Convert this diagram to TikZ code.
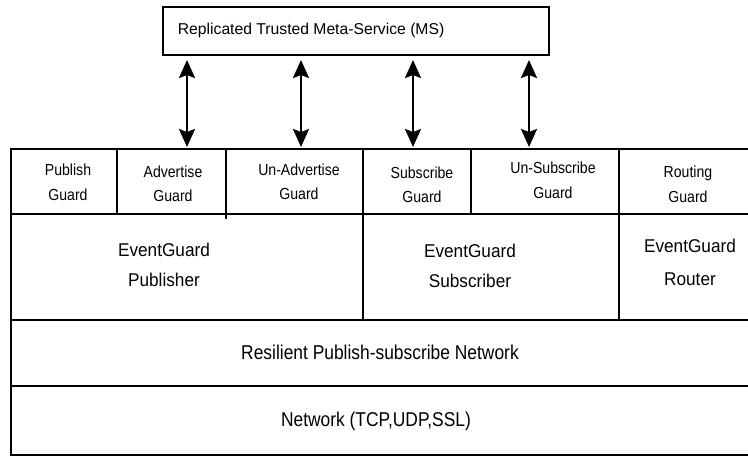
\documentclass[tikz,border=0pt]{standalone}
\usepackage{fontspec}
\setmainfont{Liberation Sans}
\newfontfamily\msfont{Liberation Sans}
\newfontfamily\guardfont[FakeStretch=0.88]{Liberation Sans}
\newfontfamily\compfont[FakeStretch=0.93]{Liberation Sans}
\newfontfamily\layerfont[FakeStretch=0.87]{Liberation Sans}
\usetikzlibrary{arrows.meta}

\begin{document}
\begin{tikzpicture}[x=1pt,y=-1pt,
  cell/.style={draw, line width=2pt, inner sep=0pt, outer sep=0pt, anchor=north west},
  guardtxt/.style={inner sep=0pt, align=center, font=\guardfont\fontsize{16}{24.5}\selectfont},
  comptxt/.style={inner sep=0pt, align=center, font=\compfont\fontsize{18.5}{30}\selectfont},
  layertxt/.style={inner sep=0pt, font=\layerfont\fontsize{20}{24}\selectfont},
  biarrow/.style={line width=2.4pt, {Stealth[length=18pt,width=16pt,inset=3pt]}-{Stealth[length=18pt,width=16pt,inset=3pt]}}
]
\clip (0,0) rectangle (748,456);

% meta-service box
\node[cell, minimum width=386, minimum height=48] (ms) at (163,7) {};
\node[inner sep=0pt, anchor=base west, font=\msfont\fontsize{15.7}{19}\selectfont] (mstxt) at (177.7,34.3) {Replicated Trusted Meta-Service (MS)};

% guard row
\node[cell, minimum width=106, minimum height=65] (pg)  at (11,149)  {};
\node[cell, minimum width=109, minimum height=65] (ag)  at (117,149) {};
\node[cell, minimum width=137, minimum height=65] (ug)  at (226,149) {};
\node[cell, minimum width=108, minimum height=65] (sg)  at (363,149) {};
\node[cell, minimum width=148, minimum height=65] (usg) at (471,149) {};
\node[cell, minimum width=141, minimum height=65] (rg)  at (619,149) {};

% component row
\node[cell, minimum width=352, minimum height=106] (ep) at (11,214)  {};
\node[cell, minimum width=256, minimum height=106] (es) at (363,214) {};
\node[cell, minimum width=141, minimum height=106] (er) at (619,214) {};

% network layers
\node[cell, minimum width=749, minimum height=66] (rn) at (11,320) {};
\node[cell, minimum width=749, minimum height=69] (nw) at (11,386) {};

\draw[line width=1.5pt] (ug.south west) -- ++(0,5);

% labels
\node[guardtxt] (pgt)  at (68,182.5)  {Publish\\Guard};
\node[guardtxt] (agt)  at (173,184)   {Advertise\\Guard};
\node[guardtxt] (ugt)  at (299,182)   {Un-Advertise\\Guard};
\node[guardtxt] (sgt)  at (422,185)   {Subscribe\\Guard};
\node[guardtxt] (usgt) at (553,180.5) {Un-Subscribe\\Guard};
\node[guardtxt] (rgt)  at (688,184.5) {Routing\\Guard};

\node[comptxt] (ept) at (164,265) {EventGuard\\Publisher};
\node[comptxt] (est) at (470,265.5) {EventGuard\\Subscriber};
\node[comptxt, font=\compfont\fontsize{18.5}{33}\selectfont] (ert) at (690,262) {EventGuard\\Router};

\node[layertxt] (rnt) at (380,352.5) {Resilient Publish-subscribe Network};
\node[layertxt] (nwt) at (376,421)   {Network (TCP,UDP,SSL)};

% connections between the meta-service and the guards
\coordinate (c1) at (187,0);
\coordinate (c2) at (301,0);
\coordinate (c3) at (413,0);
\coordinate (c4) at (529,0);
\draw[biarrow, shorten <=5pt, shorten >=2pt] (ms.south -| c1) -- (ag.north -| c1);
\draw[biarrow, shorten <=5pt, shorten >=2pt] (ms.south -| c2) -- (ug.north -| c2);
\draw[biarrow, shorten <=5pt, shorten >=2pt] (ms.south -| c3) -- (sg.north -| c3);
\draw[biarrow, shorten <=5pt, shorten >=2pt] (ms.south -| c4) -- (usg.north -| c4);
\end{tikzpicture}
\end{document}
